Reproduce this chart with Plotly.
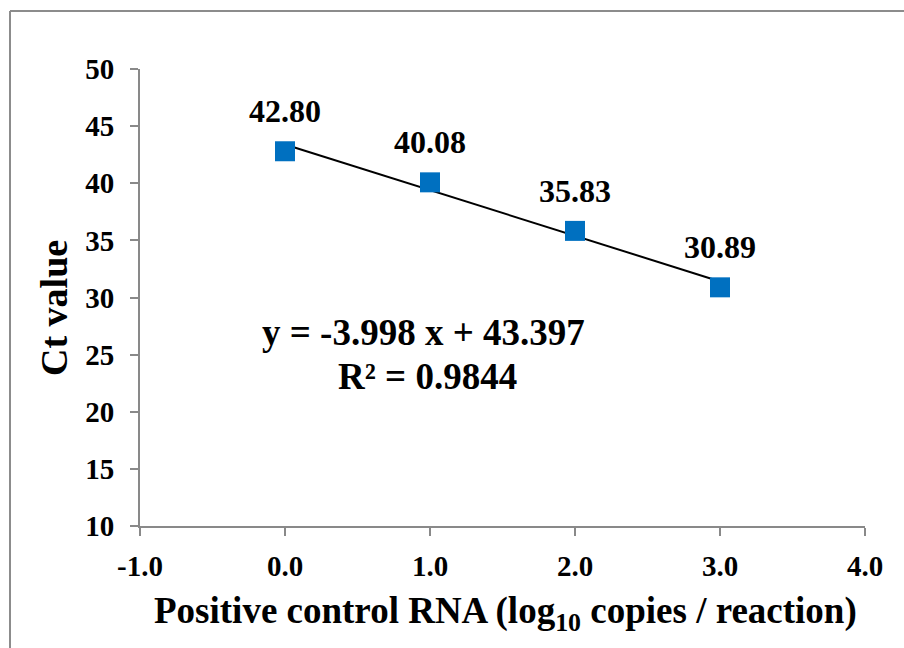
import numpy as np
import plotly.graph_objects as go

x_vals = [0.0, 1.0, 2.0, 3.0]
ct_vals = [42.80, 40.08, 35.83, 30.89]
x_ticks = [-1.0, 0.0, 1.0, 2.0, 3.0, 4.0]
x_tick_text = ["-1.0", "0.0", "1.0", "2.0", "3.0", "4.0"]
y_ticks = [10, 15, 20, 25, 30, 35, 40, 45, 50]

slope, intercept = np.polyfit(x_vals, ct_vals, 1)
fit_y = [slope * xv + intercept for xv in x_vals]
resid = np.array(ct_vals) - np.array(fit_y)
r2 = 1 - np.sum(resid**2) / np.sum((np.array(ct_vals) - np.mean(ct_vals))**2)

FONT = "Liberation Serif"
W, H = 904, 648
L, R, T, B = 140, 39, 69, 122
PW, PH = W - L - R, H - T - B


def px_x(p):
    # page pixel -> plot-area paper fraction
    return (p - L) / PW


def px_y(p):
    return (H - B - p) / PH


fig = go.Figure()
fig.add_trace(go.Scatter(x=[x_vals[0], x_vals[-1]], y=[fit_y[0], fit_y[-1]], mode="lines",
                         line=dict(color="black", width=2), hoverinfo="skip", showlegend=False))
fig.add_trace(go.Scatter(x=x_vals, y=ct_vals, mode="markers",
                         marker=dict(symbol="square", size=20, color="#0070C0"),
                         showlegend=False))

for xv, yv in zip(x_vals, ct_vals):
    fig.add_annotation(x=xv, y=yv, text=f"<b>{yv:.2f}</b>", showarrow=False,
                       yshift=40, font=dict(family=FONT, size=32, color="black"))

sign = "-" if slope < 0 else "+"
fig.add_annotation(xref="paper", yref="paper", x=px_x(423), y=px_y(333),
                   text=f"<b>y = {sign}{abs(slope):.3f} x + {intercept:.3f}</b>", showarrow=False,
                   xanchor="center", yanchor="middle", font=dict(family=FONT, size=37, color="black"))
fig.add_annotation(xref="paper", yref="paper", x=px_x(427), y=px_y(376),
                   text=f"<b>R² = {r2:.4f}</b>", showarrow=False,
                   xanchor="center", yanchor="middle", font=dict(family=FONT, size=37, color="black"))

# axis titles
fig.add_annotation(xref="paper", yref="paper", x=px_x(505), y=px_y(613),
                   text="<b>Positive control RNA (log<sub>10</sub> copies / reaction)</b>", showarrow=False,
                   xanchor="center", yanchor="middle", font=dict(family=FONT, size=37, color="black"))
fig.add_annotation(xref="paper", yref="paper", x=px_x(54), y=px_y(308),
                   text="<b>Ct value</b>", showarrow=False, textangle=-90,
                   xanchor="center", yanchor="middle", font=dict(family=FONT, size=38, color="black"))

# chart border: only left and top edges are visible (it runs past the right/bottom)
border = dict(color="#8c8c8c", width=2)
fig.add_shape(type="line", xref="paper", yref="paper",
              x0=px_x(10), x1=px_x(10), y0=px_y(700), y1=px_y(11), line=border, layer="below")
fig.add_shape(type="line", xref="paper", yref="paper",
              x0=px_x(10), x1=px_x(960), y0=px_y(11), y1=px_y(11), line=border, layer="below")

axis_common = dict(showgrid=False, zeroline=False, showline=True, linecolor="#898989", linewidth=2,
                   ticks="outside", ticklen=8, tickwidth=2, tickcolor="#898989",
                   tickfont=dict(family=FONT, size=29, color="black"))
fig.update_xaxes(range=[-1, 4], tickvals=x_ticks, ticktext=[f"<b>{t}</b>" for t in x_tick_text],
                 ticklabelstandoff=5, **axis_common)
fig.update_yaxes(range=[10, 50], tickvals=y_ticks, ticktext=[f"<b>{t}</b>" for t in y_ticks],
                 ticklabelstandoff=10, **axis_common)

fig.update_layout(width=W, height=H, margin=dict(l=L, r=R, t=T, b=B, autoexpand=False),
                  paper_bgcolor="white", plot_bgcolor="white",
                  font=dict(family=FONT, color="black"))

fig.write_html("out.html", config={"displayModeBar": False},
               post_script="document.body.style.margin='0px';document.body.style.overflow='hidden';")
